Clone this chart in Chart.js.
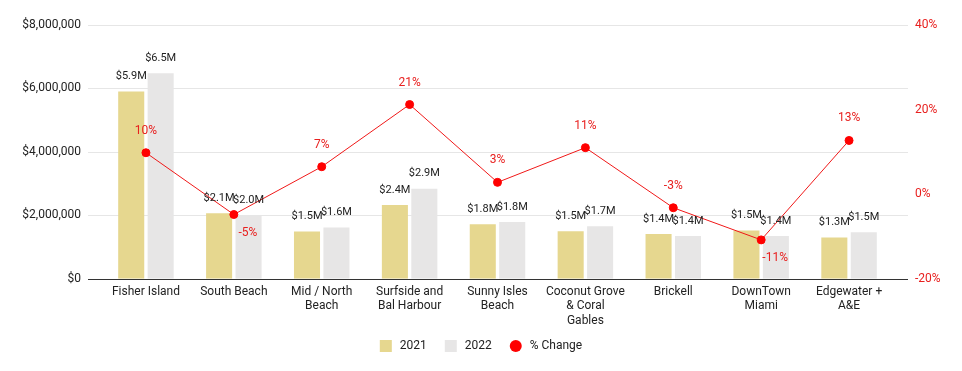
<!DOCTYPE html>
<html>
<head>
<meta charset="utf-8">
<script src="https://cdn.jsdelivr.net/npm/chart.js@4.4.0/dist/chart.umd.min.js"></script>
<style>
  html, body { margin: 0; padding: 0; background: #fff; }
  #wrap { width: 962px; height: 371px; position: relative; }
</style>
</head>
<body>
<div id="wrap"><canvas id="c" width="962" height="371"></canvas></div>
<script>
const categories = [
  "Fisher Island",
  "South Beach",
  ["Mid / North", "Beach"],
  ["Surfside and", "Bal Harbour"],
  ["Sunny Isles", "Beach"],
  ["Coconut Grove", "& Coral", "Gables"],
  "Brickell",
  ["DownTown", "Miami"],
  ["Edgewater +", "A&E"]
];
const values2021 = [5900000, 2070000, 1490000, 2330000, 1720000, 1500000, 1410000, 1520000, 1300000];
const values2022 = [6480000, 1990000, 1620000, 2840000, 1790000, 1660000, 1350000, 1350000, 1470000];
const labels2021 = ["$5.9M", "$2.1M", "$1.5M", "$2.4M", "$1.8M", "$1.5M", "$1.4M", "$1.5M", "$1.3M"];
const labels2022 = ["$6.5M", "$2.0M", "$1.6M", "$2.9M", "$1.8M", "$1.7M", "$1.4M", "$1.4M", "$1.5M"];
const pctChange = [9.8, -4.8, 6.5, 21.2, 2.8, 11.0, -3.2, -10.8, 12.7];
const pctLabels = ["10%", "-5%", "7%", "21%", "3%", "11%", "-3%", "-11%", "13%"];
const leftTicks = [0, 2000000, 4000000, 6000000, 8000000];
const rightTicks = [-20, 0, 20, 40];

const FONT = 'Roboto, Arial, sans-serif';
const GRID_EXT_L = 14, GRID_EXT_R = 15;

const gridPlugin = {
  id: 'wideGrid',
  beforeDatasetsDraw(chart) {
    const ctx = chart.ctx, ca = chart.chartArea, y = chart.scales.y;
    ctx.save();
    ctx.strokeStyle = '#e6e6e6';
    ctx.lineWidth = 1;
    leftTicks.forEach(v => {
      if (v === 0) return;
      const py = Math.round(y.getPixelForValue(v)) + 0.5;
      ctx.beginPath();
      ctx.moveTo(ca.left - GRID_EXT_L, py);
      ctx.lineTo(ca.right + GRID_EXT_R, py);
      ctx.stroke();
    });
    ctx.restore();
  },
  afterDatasetsDraw(chart) {
    const ctx = chart.ctx, ca = chart.chartArea, y = chart.scales.y;
    ctx.save();
    ctx.strokeStyle = '#333333';
    ctx.lineWidth = 1;
    const py = Math.round(y.getPixelForValue(0)) + 0.5;
    ctx.beginPath();
    ctx.moveTo(ca.left - GRID_EXT_L, py);
    ctx.lineTo(ca.right + GRID_EXT_R, py);
    ctx.stroke();
    ctx.restore();
  }
};

const labelPlugin = {
  id: 'valueLabels',
  afterDatasetsDraw(chart) {
    const ctx = chart.ctx;
    ctx.save();
    ctx.textAlign = 'center';
    ctx.textBaseline = 'middle';
    [[0, labels2021], [1, labels2022]].forEach(([di, labs]) => {
      const meta = chart.getDatasetMeta(di);
      ctx.font = '11px ' + FONT;
      ctx.fillStyle = '#222222';
      meta.data.forEach((el, i) => {
        ctx.fillText(labs[i], el.x, el.y - 15);
      });
    });
    const meta = chart.getDatasetMeta(2);
    ctx.font = '12px ' + FONT;
    ctx.fillStyle = '#e8201f';
    meta.data.forEach((el, i) => {
      const v = pctChange[i];
      if (v < -4) {
        ctx.fillText(pctLabels[i], el.x + 14, el.y + 18);
      } else {
        ctx.fillText(pctLabels[i], el.x, el.y - 22);
      }
    });
    ctx.restore();
  }
};

const legendPlugin = {
  id: 'customLegend',
  afterDraw(chart) {
    const ctx = chart.ctx;
    ctx.save();
    ctx.font = '12px ' + FONT;
    ctx.textBaseline = 'middle';
    ctx.textAlign = 'left';
    const ds = chart.data.datasets;
    const box = 12, gapText = 8, gapItem = 18;
    const widths = ds.map(d => box + gapText + ctx.measureText(d.label).width);
    const total = widths.reduce((a, b) => a + b, 0) + gapItem * (ds.length - 1);
    let x = chart.width / 2 - total / 2;
    const cy = 346;
    ds.forEach((d, i) => {
      ctx.fillStyle = d.backgroundColor;
      if (i < 2) {
        ctx.fillRect(x, cy - box / 2, box, box);
      } else {
        ctx.beginPath();
        ctx.arc(x + box / 2, cy, box / 2, 0, Math.PI * 2);
        ctx.fill();
      }
      ctx.fillStyle = '#222';
      ctx.fillText(d.label, x + box + gapText, cy);
      x += widths[i] + gapItem;
    });
    ctx.restore();
  }
};

new Chart(document.getElementById('c'), {
  type: 'bar',
  data: {
    labels: categories,
    datasets: [
      {
        label: '2021',
        data: values2021,
        backgroundColor: '#e6d78f',
        yAxisID: 'y',
        order: 2,
        categoryPercentage: 0.67,
        barPercentage: 0.885
      },
      {
        label: '2022',
        data: values2022,
        backgroundColor: '#e7e6e6',
        yAxisID: 'y',
        order: 2,
        categoryPercentage: 0.67,
        barPercentage: 0.885
      },
      {
        type: 'line',
        label: '% Change',
        data: pctChange,
        yAxisID: 'y1',
        borderColor: '#f01818',
        backgroundColor: '#ff0000',
        borderWidth: 1,
        pointRadius: 4,
        pointHoverRadius: 4,
        pointBackgroundColor: '#ff0000',
        pointBorderColor: '#ff0000',
        tension: 0,
        order: 1
      }
    ]
  },
  options: {
    responsive: false,
    animation: false,
    devicePixelRatio: 1,
    layout: { padding: { left: 0, right: 0, top: 25, bottom: 37 } },
    plugins: {
      legend: { display: false },
      tooltip: { enabled: false }
    },
    scales: {
      x: {
        grid: { display: false, drawTicks: false },
        border: { display: false },
        ticks: {
          color: '#222',
          font: { family: FONT, size: 12 },
          padding: 6,
          maxRotation: 0,
          autoSkip: false
        }
      },
      y: {
        position: 'left',
        min: 0,
        max: 8000000,
        afterBuildTicks(axis) { axis.ticks = leftTicks.map(v => ({ value: v })); },
        afterFit(axis) { axis.width = 102; axis.paddingTop = 0; axis.paddingBottom = 0; },
        grid: { display: false, drawTicks: false },
        border: { display: false },
        ticks: {
          color: '#222',
          padding: 21,
          font: { family: FONT, size: 12 },
          callback: v => '$' + Number(v).toLocaleString('en-US')
        }
      },
      y1: {
        position: 'right',
        min: -20,
        max: 40,
        afterBuildTicks(axis) { axis.ticks = rightTicks.map(v => ({ value: v })); },
        afterFit(axis) { axis.width = 69; axis.paddingTop = 0; axis.paddingBottom = 0; },
        grid: { display: false, drawTicks: false },
        border: { display: false },
        ticks: {
          color: '#e8201f',
          padding: 22,
          font: { family: FONT, size: 12 },
          callback: v => v + '%'
        }
      }
    }
  },
  plugins: [gridPlugin, labelPlugin, legendPlugin]
});
</script>
</body>
</html>
